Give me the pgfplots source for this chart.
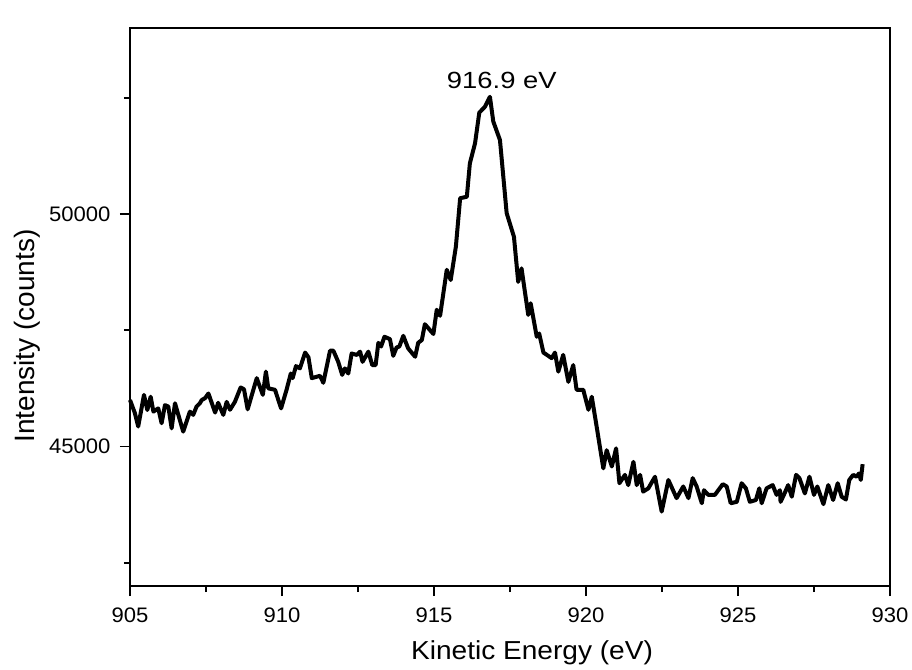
\documentclass[border=0pt]{standalone}
\usepackage{pgfplots}
\pgfplotsset{compat=1.18}
\usepackage{fontspec}
\setmainfont{Liberation Sans}

\pgfplotstableread{
E I
905.00 46000
905.16 45720
905.27 45430
905.46 46110
905.57 45785
905.68 46070
905.77 45750
905.93 45820
906.04 45500
906.15 45890
906.26 45860
906.37 45390
906.48 45930
906.75 45320
906.97 45750
907.08 45680
907.19 45860
907.30 45930
907.36 46000
907.47 46040
907.58 46140
907.80 45730
907.90 45940
908.07 45680
908.18 45960
908.29 45790
908.45 45960
908.64 46270
908.75 46230
908.87 45800
909.17 46470
909.37 46110
909.47 46610
909.55 46250
909.77 46220
909.97 45820
910.15 46220
910.29 46570
910.35 46470
910.46 46730
910.59 46680
910.76 47020
910.87 46920
910.98 46470
911.25 46520
911.36 46370
911.58 47060
911.69 47060
911.85 46820
911.98 46540
912.07 46680
912.18 46570
912.29 47000
912.46 46970
912.57 47040
912.65 46820
912.84 47040
912.97 46750
913.08 46750
913.17 47230
913.26 47150
913.37 47360
913.55 47310
913.66 46950
913.77 47130
913.86 47150
913.99 47380
914.15 47110
914.38 46930
914.48 47230
914.60 47290
914.70 47630
914.98 47420
915.09 47940
915.20 47810
915.42 48800
915.55 48580
915.72 49300
915.86 50340
916.08 50370
916.18 51090
916.35 51520
916.49 52180
916.68 52310
916.84 52520
916.95 51990
917.17 51590
917.39 50020
917.63 49510
917.77 48540
917.88 48830
918.10 47830
918.18 48080
918.38 47360
918.46 47430
918.60 47020
918.87 46900
918.98 47020
919.09 46610
919.25 46970
919.42 46390
919.58 46750
919.69 46220
919.91 46220
920.08 45790
920.19 46070
920.35 45430
920.57 44530
920.68 44920
920.85 44570
920.99 44960
921.10 44210
921.28 44390
921.39 44170
921.56 44670
921.67 44170
921.78 44390
921.88 44030
922.05 44100
922.27 44350
922.49 43600
922.71 44280
922.98 43890
923.20 44140
923.37 43890
923.51 44320
923.64 44140
923.81 43780
923.88 44060
924.02 43960
924.24 43960
924.50 44190
924.63 44140
924.76 43780
924.96 43810
925.12 44210
925.26 44100
925.39 43810
925.59 43850
925.70 44100
925.78 43780
925.94 44100
926.14 44170
926.27 43960
926.38 44060
926.40 43810
926.51 43960
926.65 44170
926.77 43920
926.91 44390
927.02 44320
927.20 43990
927.35 44350
927.50 43960
927.61 44140
927.81 43760
927.97 44170
928.13 43850
928.28 44210
928.41 43920
928.55 43860
928.66 44280
928.79 44390
928.90 44350
928.98 44420
929.04 44280
929.10 44620
}\spectrum

\begin{document}
\begin{tikzpicture}
\useasboundingbox (-65pt,-42pt) rectangle (391pt,293pt);
\begin{axis}[
    at={(0,0)}, anchor=south west,
    scale only axis, width=380pt, height=279pt,
    xmin=905, xmax=930, ymin=42000, ymax=54000,
    xtick={905,910,...,930}, ytick={45000,50000},
    minor xtick={907.5,912.5,917.5,922.5,927.5},
    minor ytick={42500,47500,52500},
    tick pos=left, tick align=outside,
    major tick length=5pt, minor tick length=3pt,
    every tick/.style={black, line width=0.9pt},
    axis line style={line width=1pt},
    scaled y ticks=false,
    /pgf/number format/1000 sep={},
    /pgf/number format/assume math mode=true,
    tick label style={font=\fontsize{10.5}{12}\selectfont, xscale=1.05},
    xticklabel style={yshift=-2.5pt},
    yticklabel style={xshift=-1pt},
    xlabel={Kinetic Energy (eV)},
    ylabel={Intensity (counts)},
    xlabel style={font=\fontsize{13}{15}\selectfont, xscale=1.08,
      at={(axis description cs:0.529,-0.1326)}, anchor=base},
    ylabel style={font=\fontsize{14}{16}\selectfont,
      at={(axis description cs:-0.1355,0.448)}, anchor=center},
    clip=false,
  ]
  \addplot[black, line width=2pt, line join=round] table[x=E, y=I] {\spectrum};
  \node[anchor=base, font=\fontsize{11.7}{14}\selectfont, xscale=1.17, inner sep=0pt]
    at (axis cs:917.23,52703) {916.9 eV};
\end{axis}
\end{tikzpicture}
\end{document}
